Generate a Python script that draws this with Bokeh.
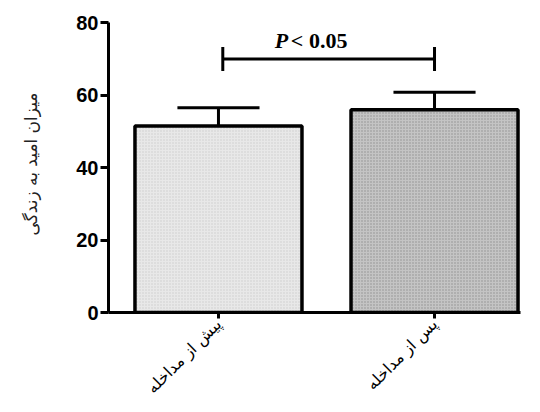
import math
from bokeh.plotting import figure
from bokeh.models import FixedTicker, Range1d
from bokeh.embed import file_html
from bokeh.resources import INLINE

# data
categories = ["پیش از مداخله", "پس از مداخله"]
means = [51.5, 56.0]
errors = [5.0, 4.8]
y_ticks = [0, 20, 40, 60, 80]
y_label = "میزان امید به زندگی"
sig_text_p = "P"
sig_text_rest = " < 0.05"
sig_level = 70
sig_span = [1.02, 2.0]

xs = [i + 1 for i in range(len(categories))]

p = figure(width=532, height=396, output_backend="svg", toolbar_location=None,
           x_range=Range1d(0.491, 2.398), y_range=Range1d(0, 82),
           frame_width=412, frame_height=297,
           min_border_left=108, min_border_right=12, min_border_top=15, min_border_bottom=84)
p.outline_line_color = None
p.grid.grid_line_color = None
p.background_fill_color = "white"

fills = ["#e8e8e8", "#c4c4c4"]
hatch_cols = ["#cdcdcd", "#8e8e8e"]
for i in range(len(categories)):
    p.vbar(x=[xs[i]], top=[means[i]], width=0.773, bottom=0,
           fill_color=fills[i], line_color="black", line_width=3.5,
           hatch_pattern="dot", hatch_scale=3, hatch_color=hatch_cols[i], hatch_weight=1.5)

# error bars (upper only)
tops = [m + e for m, e in zip(means, errors)]
p.segment(x0=xs, y0=means, x1=xs, y1=tops, line_color="black", line_width=3)
cap = 0.19
p.segment(x0=[x - cap for x in xs], y0=tops, x1=[x + cap for x in xs], y1=tops,
          line_color="black", line_width=3)

# significance bracket
p.segment(x0=[sig_span[0]], y0=[sig_level], x1=[sig_span[1]], y1=[sig_level], line_color="black", line_width=3)
p.segment(x0=sig_span, y0=[sig_level - 3.3] * 2, x1=sig_span, y1=[sig_level + 3.3] * 2,
          line_color="black", line_width=3)
mid = (sig_span[0] + sig_span[1]) / 2
p.text(x=[mid - 0.25], y=[sig_level + 1.6], text=[sig_text_p], text_font="Liberation Serif",
       text_font_style="bold italic", text_font_size="22px", text_baseline="bottom", text_align="left")
p.text(x=[mid - 0.25 + 0.075], y=[sig_level + 1.6], text=[sig_text_rest], text_font="Liberation Serif",
       text_font_style="bold", text_font_size="22px", text_baseline="bottom", text_align="left")

# axes
yax = p.yaxis[0]
yax.ticker = FixedTicker(ticks=y_ticks)
yax.bounds = (0, 80)
yax.axis_line_width = 3
yax.major_tick_line_width = 3
yax.major_tick_out = 8
yax.major_tick_in = 0
yax.minor_tick_line_color = None
yax.major_label_text_font = "Liberation Sans"
yax.major_label_text_font_style = "bold"
yax.major_label_text_font_size = "20px"
yax.major_label_text_color = "black"
yax.major_label_standoff = 2
yax.axis_label = y_label
yax.axis_label_text_font = "DejaVu Sans"
yax.axis_label_text_font_style = "normal"
yax.axis_label_text_font_size = "17px"
yax.axis_label_text_color = "#222222"
yax.axis_label_standoff = 32

xax = p.xaxis[0]
xax.ticker = FixedTicker(ticks=xs)
xax.major_label_overrides = {x: c for x, c in zip(xs, categories)}
xax.bounds = (0.491, 2.398)
xax.axis_line_width = 3
xax.major_tick_line_width = 3
xax.major_tick_out = 6
xax.major_tick_in = 0
xax.minor_tick_line_color = None
xax.major_label_orientation = math.pi / 4
xax.major_label_text_font = "DejaVu Sans"
xax.major_label_text_font_size = "16px"
xax.major_label_text_color = "black"
xax.major_label_standoff = 3

open("out.html", "w").write(file_html(p, INLINE))
